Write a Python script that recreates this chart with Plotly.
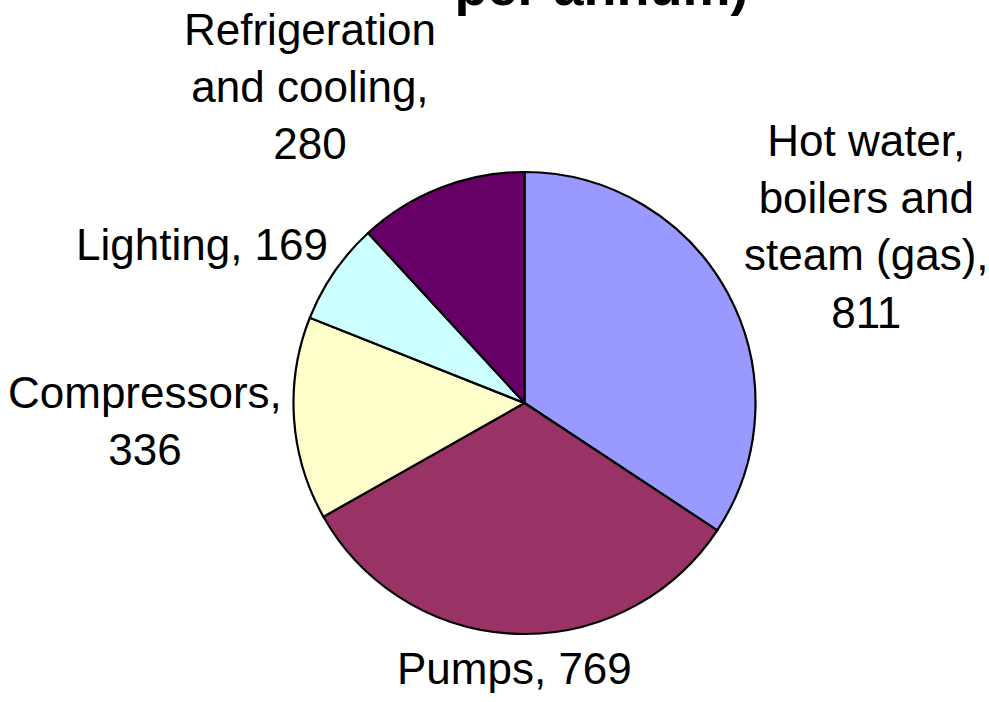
import plotly.graph_objects as go

# Energy use by end use (pie slices, clockwise from 12 o'clock)
labels = [
    "Hot water, boilers and steam (gas)",
    "Pumps",
    "Compressors",
    "Lighting",
    "Refrigeration and cooling",
]
values = [811, 769, 336, 169, 280]
colors = ["#9999FF", "#993366", "#FFFFCC", "#CCFFFF", "#660066"]

# label text laid out like the original (value on its own line or inline)
label_texts = [
    "Hot water,<br>boilers and<br>steam (gas),<br>811",
    "Pumps, 769",
    "Compressors,<br>336",
    "Lighting, 169",
    "Refrigeration<br>and cooling,<br>280",
]
# label centre positions (paper fractions)
label_pos = [
    (0.876, 0.677),
    (0.52, 0.048),
    (0.147, 0.40),
    (0.204, 0.651),
    (0.313, 0.877),
]

W, H = 989, 702
cx, cy, r = 524.5, 403, 231

fig = go.Figure(
    go.Pie(
        labels=labels,
        values=values,
        sort=False,
        direction="clockwise",
        rotation=0,
        marker=dict(colors=colors, line=dict(color="black", width=2.2)),
        textinfo="none",
        hoverinfo="label+value",
        showlegend=False,
        domain=dict(
            x=[(cx - r) / W, (cx + r) / W],
            y=[(H - cy - r) / H, (H - cy + r) / H],
        ),
    )
)

for txt, (x, y) in zip(label_texts, label_pos):
    fig.add_annotation(
        text=txt,
        x=x,
        y=y,
        xref="paper",
        yref="paper",
        xanchor="center",
        yanchor="middle",
        showarrow=False,
        align="center",
        font=dict(family="Arial, Liberation Sans", size=44, color="black"),
    )

# title, mostly cropped off the top of the picture
fig.add_annotation(
    text="<b>Energy use (MWh<br>per annum)</b>",
    x=0.608,
    y=1.0,
    xref="paper",
    yref="paper",
    xanchor="center",
    yanchor="bottom",
    yshift=-18,
    showarrow=False,
    font=dict(family="Arial, Liberation Sans", size=54, color="black"),
)

fig.update_layout(
    width=W,
    height=H,
    margin=dict(l=0, r=0, t=0, b=0),
    paper_bgcolor="white",
    plot_bgcolor="white",
)

fig.write_html(
    "out.html",
    config={"displayModeBar": False},
    post_script="document.body.style.margin = '0';",
)
